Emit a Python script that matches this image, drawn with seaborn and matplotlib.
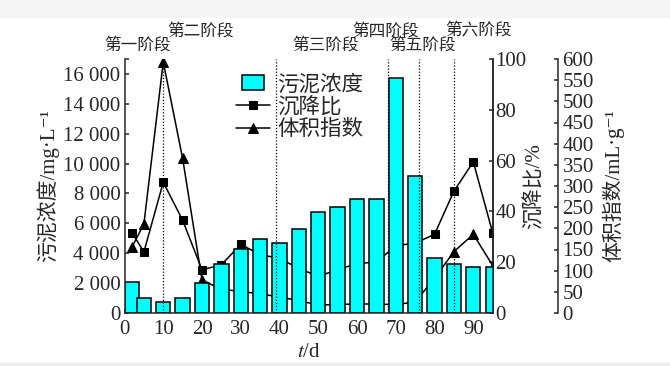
import matplotlib
matplotlib.use("Agg")
import matplotlib.pyplot as plt
from matplotlib.patches import Rectangle
from matplotlib.legend_handler import HandlerPatch
import pandas as pd
import seaborn as sns

# ----------------------------------------
# Data
# ----------------------------------------
days = [2, 5, 10, 15, 20, 25, 30, 35, 40, 45, 50, 55, 60, 65, 70, 75, 80, 85, 90, 95]
mlss = [2050, 1000, 750, 1000, 2000, 3250, 4300, 4950, 4700, 5600,
        6750, 7100, 7650, 7650, 15750, 9150, 3700, 3250, 3100, 3100]  # 污泥浓度 mg/L
sv = [31.5, 24, 51.5, 36.5, 17, 19, 27, 23, 21.5, 17.5,
      14.5, 17, 19.5, 20, 26.5, 27.5, 31, 48, 59.5, 31.5]  # 沉降比 %
svi = [157, 210, 593, 365, 78, 56, 51, 45, 38, 29,
       19, 20, 21.5, 21, 20, 26, 82, 145, 186, 112]  # 体积指数 mL/g

stage_lines = [10, 39, 68, 76, 85]
stage_names = ["第一阶段", "第二阶段", "第三阶段", "第四阶段", "第五阶段", "第六阶段"]
stage_x = [3.4, 19.5, 51.8, 67.3, 77, 91.4]

legend_labels = ["污泥浓度", "沉降比", "体积指数"]

df = pd.DataFrame({"t": days, "mlss": mlss, "sv": sv, "svi": svi})

# ----------------------------------------
# Style
# ----------------------------------------
sns.set_style("ticks")
plt.rcParams["font.family"] = ["Liberation Serif", "Noto Sans CJK SC", "DejaVu Serif"]
plt.rcParams["mathtext.fontset"] = "stix"
plt.rcParams["xtick.direction"] = "in"
plt.rcParams["ytick.direction"] = "in"
plt.rcParams["axes.linewidth"] = 1.1

fig = plt.figure(figsize=(6.7, 3.66), dpi=100)
ax = fig.add_axes([124.5 / 670, 1 - 313 / 366, (492.7 - 124.5) / 670, 254 / 366])
ax2 = ax.twinx()
ax3 = ax.twinx()

# light screenshot bands top and bottom
fig.patches.append(Rectangle((0, 1 - 17 / 366), 1, 17 / 366, transform=fig.transFigure,
                             color="#f5f5f5", zorder=-1))
fig.patches.append(Rectangle((0, 0), 1, 3 / 366, transform=fig.transFigure,
                             color="#eeeeee", zorder=-1))

# lines (drawn behind the bars)
sns.lineplot(data=df, x="t", y="sv", ax=ax2, color="black", lw=1.1, marker="s",
             markersize=6, markeredgecolor="black", markerfacecolor="black")
sns.lineplot(data=df, x="t", y="svi", ax=ax3, color="black", lw=1.1, marker="^",
             markersize=6.5, markeredgecolor="black", markerfacecolor="black")

# bars
sns.barplot(data=df, x="t", y="mlss", ax=ax, native_scale=True, width=3.7 / 3,
            color="#00FFFF", saturation=1, edgecolor="black", linewidth=1.1, errorbar=None)

ax.set_zorder(ax3.get_zorder() + 1)
ax.patch.set_visible(False)

for s in stage_lines:
    ax.axvline(s, color="black", ls=(0, (1, 1.5)), lw=0.9, zorder=5)

for name, x, lvl in zip(stage_names, stage_x, [0, 1, 0, 1, 0, 1]):
    ax.text(x, 1.108 if lvl else 1.053, name, transform=ax.get_xaxis_transform(),
            ha="center", va="center", fontsize=12)

# axes limits / ticks
ax.set_xlim(0, 95)
ax.set_xticks(range(0, 91, 10))
ax.set_ylim(0, 17000)
yt = list(range(0, 16001, 2000))
ax.set_yticks(yt)
ax.set_yticklabels([f"{v:,}".replace(",", " ") for v in yt])
ax.set_yticks([17000], minor=True)
ax.tick_params(axis="y", which="both", length=3, width=1.1, labelsize=15, pad=3)
ax.tick_params(axis="x", length=3, width=1.1, labelsize=15, pad=5)

ax2.set_ylim(0, 100)
ax2.set_yticks(range(0, 101, 20))
ax2.tick_params(axis="y", length=3, width=1.1, labelsize=15, pad=2)
ax3.set_ylim(0, 600)
ax3.set_yticks(range(0, 601, 50))
ax3.tick_params(axis="y", length=3, width=1.1, labelsize=15, pad=3.5)

ax.spines["top"].set_visible(False)
for a in (ax2, ax3):
    for side in ("top", "left", "bottom"):
        a.spines[side].set_visible(False)
ax3.spines["right"].set_position(("outward", 46.8))

# labels
ax.set_ylabel("污泥浓度/mg·L⁻¹", fontsize=15, va="center")
ax.yaxis.set_label_coords(-0.209, 0.5)
ax2.set_ylabel("沉降比/%", fontsize=15, va="center")
ax2.yaxis.set_label_coords(1.115, 0.5)
ax3.set_ylabel("体积指数/mL·g⁻¹", fontsize=15, va="center")
ax3.yaxis.set_label_coords(1.327, 0.5)
ax.set_xlabel("$t$/d", fontsize=15, va="center")
ax.xaxis.set_label_coords(0.5, -0.154)


# legend, with a narrower box for the bar entry
def small_rect(legend, orig_handle, xdescent, ydescent, width, height, fontsize):
    w = width * 0.63
    return Rectangle((-xdescent + (width - w) / 2, -ydescent), w, height)


bar = ax.patches[0]
handles = [bar, ax2.get_lines()[0], ax3.get_lines()[0]]
ax.legend(handles, legend_labels, loc="upper left",
          bbox_to_anchor=(236 / 670, 1 - 75 / 366), bbox_transform=fig.transFigure,
          frameon=False, fontsize=15.5, handlelength=1.6, handletextpad=0.3,
          labelspacing=0.1, borderpad=0, borderaxespad=0,
          handler_map={type(bar): HandlerPatch(patch_func=small_rect)})

fig.savefig("out.png", dpi=100)
